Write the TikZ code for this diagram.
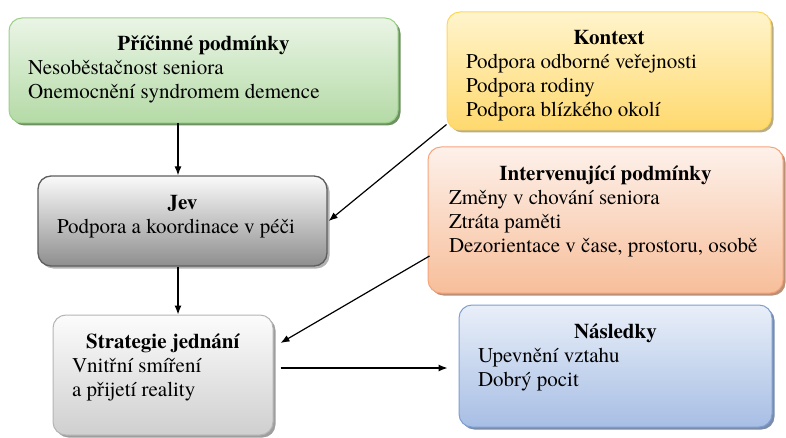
\documentclass[tikz,border=0pt]{standalone}
\usepackage{fontspec}
\setmainfont{texgyretermes}[Extension=.otf,UprightFont=*-regular,BoldFont=*-bold,ItalicFont=*-italic,BoldItalicFont=*-bolditalic]
\usetikzlibrary{positioning,shadows,arrows.meta}

\definecolor{pricTop}{HTML}{EAF5E6}
\definecolor{pricBot}{HTML}{B4DAA6}
\definecolor{pricLine}{HTML}{9CCF8A}
\definecolor{jevTop}{HTML}{FAFAFA}
\definecolor{jevBot}{HTML}{8E8E8E}
\definecolor{jevLine}{HTML}{5E5E5E}
\definecolor{stratTop}{HTML}{FCFCFC}
\definecolor{stratBot}{HTML}{CFCFCF}
\definecolor{stratLine}{HTML}{B4B4B4}
\definecolor{konTop}{HTML}{FFF4CC}
\definecolor{konBot}{HTML}{FFD96E}
\definecolor{konLine}{HTML}{FFD65C}
\definecolor{intTop}{HTML}{FDF1EA}
\definecolor{intBot}{HTML}{F7BE9A}
\definecolor{intLine}{HTML}{F5A57A}
\definecolor{naslTop}{HTML}{E9EFF9}
\definecolor{naslBot}{HTML}{A7BEE4}
\definecolor{naslLine}{HTML}{7E9FD2}

% title centred, lines flush left, text hung from the top
\newcommand{\boxtext}[4]{\parbox[c][#2][t]{#1}{\centering\rule{0pt}{33pt}\textbf{#3}\par\raggedright #4}}

\begin{document}
\begin{tikzpicture}[x=1pt,y=1pt,on grid,
    cat/.style={draw, line width=1pt, rounded corners=13pt, inner xsep=19pt, inner ysep=0pt,
                font=\fontsize{21}{24}\selectfont},
    catcol/.style n args={4}{top color=#1, bottom color=#2, draw=#3,
                general shadow={fill=#4, shadow xshift=2.5pt, shadow yshift=-2.5pt}},
    >={Latex[length=9pt,width=7pt]}]
    \useasboundingbox (0,0) rectangle (786,437);

    \node[cat,catcol={pricTop}{pricBot}{pricLine}{pricLine!70!black}]   (pric) at (203.5,366.5)
        {\boxtext{351pt}{105pt}{Příčinné podmínky}{Nesoběstačnost seniora\\Onemocnění syndromem demence}};
    \node[cat,catcol={jevTop}{jevBot}{jevLine}{black!30},line width=1.3pt] (jev) [below=150.5pt of pric,xshift=-21pt]
        {\boxtext{251pt}{90pt}{Jev}{Podpora a koordinace v péči}};
    \node[cat,catcol={stratTop}{stratBot}{stratLine}{black!38}]         (strat) [below=154pt of jev,xshift=-19.5pt]
        {\boxtext{182pt}{120pt}{Strategie jednání}{Vnitřní smíření\\a přijetí reality}};
    \node[cat,catcol={konTop}{konBot}{konLine}{konLine!55!black!60}]    (kon) at (609,366)
        {\boxtext{286pt}{118pt}{Kontext}{Podpora odborné veřejnosti\\Podpora rodiny\\Podpora blízkého okolí}};
    \node[cat,catcol={intTop}{intBot}{intLine}{intLine!70!black!80},inner xsep=21pt] (interv) [below=149pt of kon,xshift=-3.5pt]
        {\boxtext{313pt}{146pt}{Intervenující podmínky}{Změny v chování seniora\\Ztráta paměti\\Dezorientace v čase, prostoru, osobě}};
    \node[cat,catcol={naslTop}{naslBot}{naslLine}{naslLine!70!black!80}] (nasl) [below=146pt of interv,xshift=10pt]
        {\boxtext{275pt}{122pt}{Následky}{Upevnění vztahu\\Dobrý pocit}};

    \path[->,line width=1.2pt]
        ([xshift=-25.5pt]pric.south) edge ([xshift=-25.5pt]pric.south |- jev.north)
        ([xshift=-4.5pt]jev.south)   edge ([xshift=-4.5pt]jev.south |- strat.north)
        ([yshift=6pt]kon.south west) edge ([xshift=1pt]jev.east)
        ([xshift=2pt,yshift=-36pt]interv.west) edge ([xshift=7pt,yshift=32pt]strat.east)
        ([xshift=7pt,yshift=7pt]strat.east)    edge ([xshift=-11pt,yshift=-2pt]nasl.west);
\end{tikzpicture}
\end{document}
